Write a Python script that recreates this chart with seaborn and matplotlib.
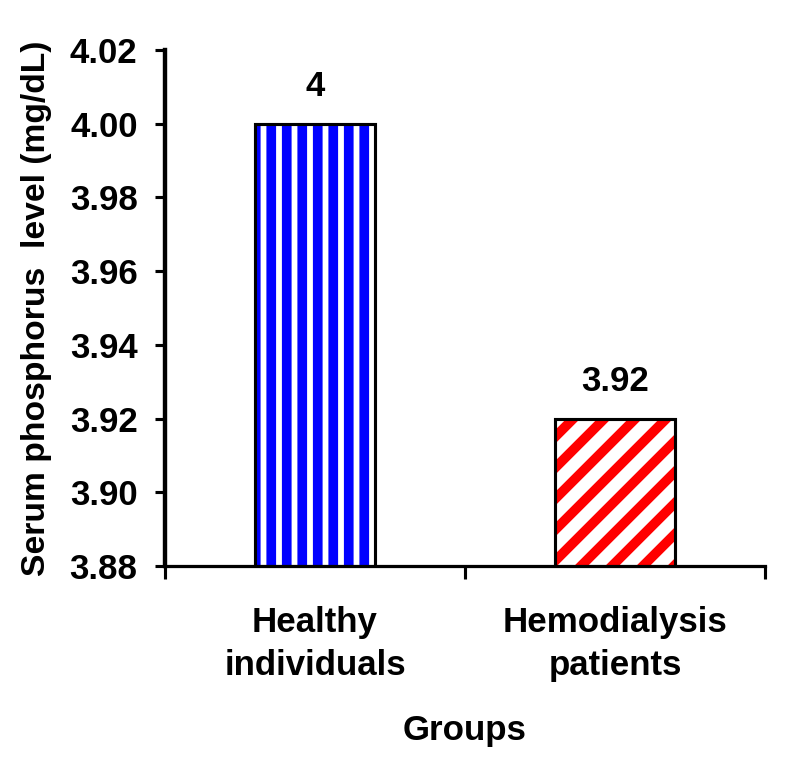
import numpy as np
import matplotlib
matplotlib.use("Agg")
import matplotlib.pyplot as plt
import seaborn as sns

groups = ["Healthy\nindividuals", "Hemodialysis\npatients"]
values = [4.00, 3.92]
value_labels = ["4", "3.92"]
stripe_colors = ["#0000FF", "#FF0000"]
hatches = ["|", "/"]
yticks = [3.88, 3.90, 3.92, 3.94, 3.96, 3.98, 4.00, 4.02]

sns.set_style("ticks")
plt.rcParams["font.family"] = ["Liberation Sans", "DejaVu Sans"]
plt.rcParams["font.weight"] = "bold"
plt.rcParams["axes.labelweight"] = "bold"
plt.rcParams["hatch.linewidth"] = 7.5
for key in ["text.color", "axes.labelcolor", "xtick.color", "ytick.color", "axes.edgecolor"]:
    plt.rcParams[key] = "black"

DPI = 93
fig = plt.figure(figsize=(796 / DPI, 762 / DPI), dpi=DPI)
ax = fig.add_axes([165 / 796, 1 - 566 / 762, 600 / 796, 516 / 762])

sns.barplot(x=groups, y=values, ax=ax, width=0.4, color="white", linewidth=0)

for p, c, h, lab in zip(ax.patches, stripe_colors, hatches, value_labels):
    p.set_facecolor("white")
    p.set_hatch(h)
    p.set_edgecolor(c)
    p.set_linewidth(0)
    ax.add_patch(plt.Rectangle(p.get_xy(), p.get_width(), p.get_height(),
                               fill=False, edgecolor="black", linewidth=2.4, zorder=3))
    ax.annotate(lab, (p.get_x() + p.get_width() / 2, p.get_height()),
                xytext=(0, 21.5), textcoords="offset points",
                ha="center", va="baseline", fontsize=27, fontweight="bold")

ax.set_xlim(-0.5, 1.5)
ax.set_ylim(3.88, 4.02)
ax.set_yticks(yticks)
ax.set_yticklabels([f"{v:.2f}" for v in yticks])
ax.set_xticks([-0.5, 0.5, 1.5])
ax.set_xticklabels(["", "", ""])
ax.set_xticks([0, 1], minor=True)
ax.set_xticklabels(groups, minor=True, linespacing=1.38)

ax.tick_params(axis="y", direction="out", length=7.7, width=2.4, pad=13.5,
               labelsize=27)
ax.tick_params(axis="x", which="major", direction="out", length=10, width=2.4)
ax.tick_params(axis="x", which="minor", length=0, pad=31, labelsize=27)

sns.despine(ax=ax)
ax.spines["left"].set_linewidth(3.4)
ax.spines["bottom"].set_linewidth(2.5)

ax.set_xlabel("Groups", fontsize=27, fontweight="bold", labelpad=25)
ax.set_ylabel("Serum phosphorus  level (mg/dL)", fontsize=26,
              fontweight="bold", labelpad=14)

fig.savefig("out.png", dpi=DPI)
